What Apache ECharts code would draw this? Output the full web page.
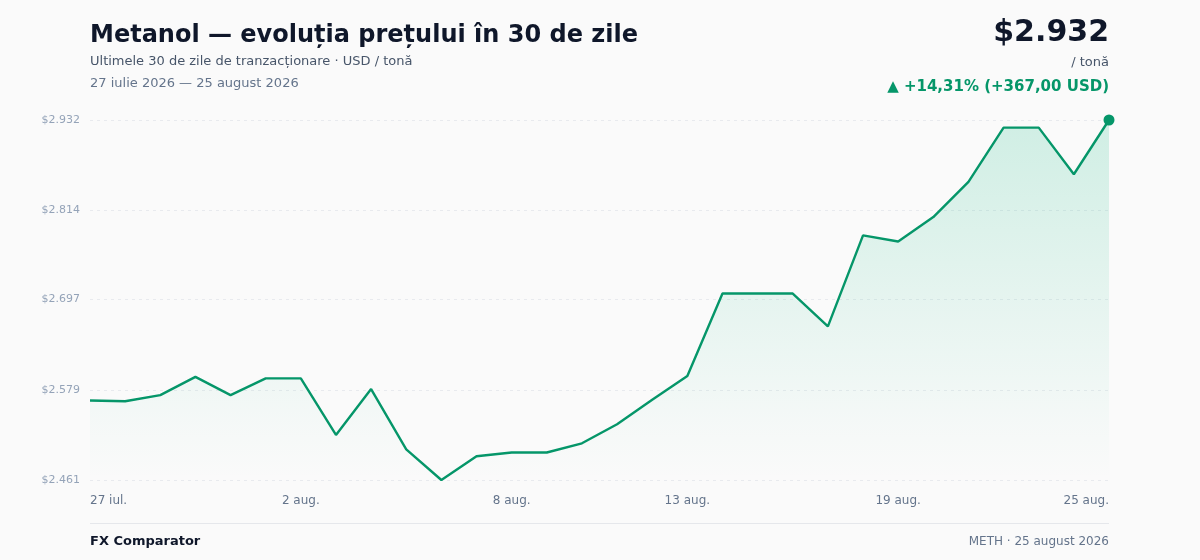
<!DOCTYPE html>
<html lang="ro">
<head>
<meta charset="utf-8">
<title>Metanol — evoluția prețului</title>
<script src="https://cdn.jsdelivr.net/npm/echarts@6/dist/echarts.min.js"></script>
<style>
  html, body { margin: 0; padding: 0; background: #fafafa; }
  #chart { width: 1200px; height: 560px; }
</style>
</head>
<body>
<div id="chart"></div>
<script>
// daily closes, 27 Jul – 25 Aug 2026 (USD / tonne)
const dates = [
  "27 iul.", "28 iul.", "29 iul.", "30 iul.", "31 iul.",
  "1 aug.", "2 aug.", "3 aug.", "4 aug.", "5 aug.", "6 aug.", "7 aug.",
  "8 aug.", "9 aug.", "10 aug.", "11 aug.", "12 aug.", "13 aug.",
  "14 aug.", "15 aug.", "16 aug.", "17 aug.", "18 aug.", "19 aug.",
  "20 aug.", "21 aug.", "22 aug.", "23 aug.", "24 aug.", "25 aug."
];
const prices = [
  2565, 2564, 2572, 2596, 2572, 2594, 2594, 2520, 2580, 2501,
  2461, 2492, 2497, 2497, 2509, 2534, 2566, 2597, 2705, 2705,
  2705, 2662, 2781, 2773, 2805, 2851, 2922, 2922, 2861, 2932
];
const yTicks = [2461, 2579, 2697, 2814, 2932];
const shownLabels = [0, 6, 12, 17, 23, 29];

const GREEN = "#059669";
const FONT = "DejaVu Sans";

function fmtUsd(v) {
  return "$" + Math.round(v).toString().replace(/\B(?=(\d{3})+(?!\d))/g, ".");
}

function fmtRo(v) {
  return v.toFixed(2).replace(".", ",");
}

const first = prices[0];
const last = prices[prices.length - 1];
const diff = last - first;
const pct = (diff / first) * 100;

const chart = echarts.init(document.getElementById("chart"), null, { renderer: "canvas" });

const option = {
  backgroundColor: "#fafafa",
  animation: false,
  textStyle: { fontFamily: FONT },
  grid: { left: 90, right: 91, top: 120, bottom: 80, containLabel: false },
  graphic: [
    {
      type: "text", left: 90, top: 24,
      style: { text: "Metanol — evoluția prețului în 30 de zile", font: "bold 24px " + FONT, fill: "#0f172a" }
    },
    {
      type: "text", left: 90, top: 55,
      style: { text: "Ultimele 30 de zile de tranzacționare · USD / tonă", font: "13px " + FONT, fill: "#475569" }
    },
    {
      type: "text", left: 90, top: 77,
      style: { text: "27 iulie 2026 — 25 august 2026", font: "13px " + FONT, fill: "#64748b" }
    },
    {
      type: "text", right: 91, top: 18,
      style: { text: fmtUsd(last), font: "bold 30px " + FONT, fill: "#0f172a", align: "right" }
    },
    {
      type: "text", right: 91, top: 56,
      style: { text: "/ tonă", font: "13px " + FONT, fill: "#475569", align: "right" }
    },
    {
      type: "text", right: 91, top: 80,
      style: {
        text: (diff >= 0 ? "▲ +" : "▼ ") + fmtRo(pct) + "% (" + (diff >= 0 ? "+" : "") + fmtRo(diff) + " USD)",
        font: "bold 15px " + FONT, fill: GREEN, align: "right"
      }
    },
    {
      type: "rect", left: 90, top: 523,
      shape: { width: 1019, height: 1 },
      style: { fill: "#e5e7eb" }
    },
    {
      type: "text", left: 90, top: 535,
      style: { text: "FX Comparator", font: "bold 13px " + FONT, fill: "#0f172a" }
    },
    {
      type: "text", right: 91, top: 536,
      style: { text: "METH · 25 august 2026", font: "12px " + FONT, fill: "#64748b", align: "right" }
    }
  ],
  xAxis: {
    type: "category",
    data: dates,
    boundaryGap: false,
    axisLine: { show: false },
    axisTick: { show: false },
    splitLine: { show: false },
    axisLabel: {
      interval: (i) => shownLabels.includes(i),
      color: "#64748b",
      fontSize: 12,
      fontFamily: FONT,
      margin: 15,
      alignMinLabel: "left",
      alignMaxLabel: "right"
    }
  },
  yAxis: {
    type: "value",
    min: yTicks[0],
    max: yTicks[yTicks.length - 1],
    axisLine: { show: false },
    axisTick: { show: false, customValues: yTicks },
    axisLabel: {
      customValues: yTicks,
      formatter: fmtUsd,
      color: "#94a3b8",
      fontSize: 11,
      fontFamily: FONT,
      margin: 10
    },
    splitLine: {
      show: true,
      lineStyle: { color: "#e8eaee", type: [3, 4], width: 1 }
    }
  },
  series: [
    {
      type: "line",
      data: prices,
      smooth: false,
      symbol: "none",
      lineStyle: { color: GREEN, width: 2.4 },
      areaStyle: {
        color: new echarts.graphic.LinearGradient(0, 0, 0, 1, [
          { offset: 0, color: "rgba(16,185,129,0.26)" },
          { offset: 0.85, color: "rgba(16,185,129,0.03)" },
          { offset: 1, color: "rgba(16,185,129,0.0)" }
        ])
      },
      markPoint: {
        symbol: "circle",
        symbolSize: 11,
        itemStyle: { color: GREEN },
        label: { show: false },
        data: [{ coord: [prices.length - 1, last] }]
      }
    }
  ]
};

chart.setOption(option);
</script>
</body>
</html>
